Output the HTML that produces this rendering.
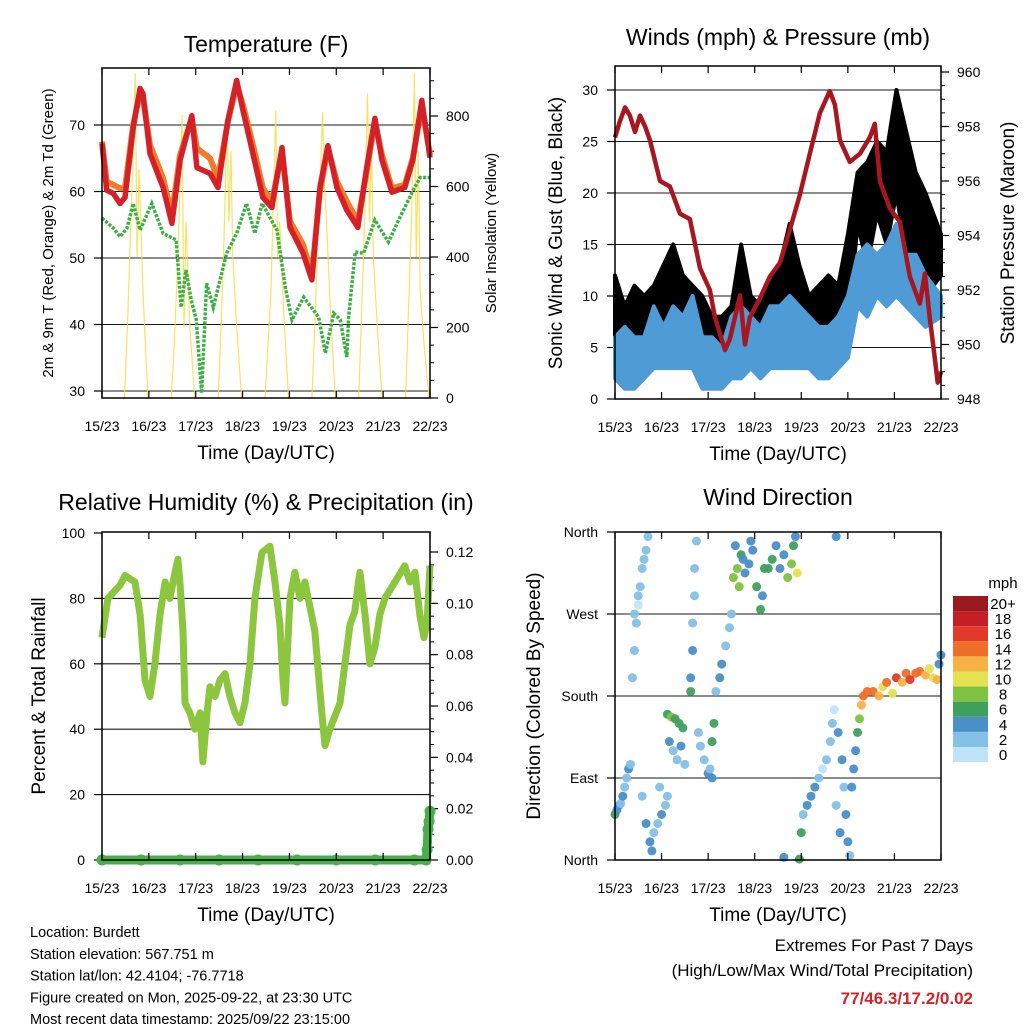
<!DOCTYPE html>
<html><head><meta charset="utf-8"><style>
html,body{margin:0;padding:0;background:#fff;}
svg{display:block;font-family:"Liberation Sans",Arial,sans-serif;}
</style></head><body>
<svg id="chart" width="1024" height="1024" viewBox="0 0 1024 1024" xmlns="http://www.w3.org/2000/svg"></svg>
<script>
// ---------- Temperature panel data ----------
const tempHours=[0,2.4,5.8,9.2,11.8,16,19.5,21,24.6,31.3,35.8,40,46,48.6,55.3,59.4,64.5,69,72.2,77.3,82.4,87,92.2,96.3,103,107.5,111.6,115.7,120.3,125.4,131,135.6,139.8,143.4,148.5,155.1,159.2,163.8,168];
const tempRed=[67.2,60.2,59.7,58.2,59.1,69.6,75.5,74.7,65.7,60.6,55.2,64.7,71.4,63.6,62.7,60.6,70.7,76.7,72.2,65.7,59.1,57.6,66.6,54.6,50.7,46.7,60.6,66.9,60.6,57.2,54.6,63.6,71,64.7,59.9,60.6,64.7,73.7,65.1];
const tempOrange=[67.5,61.5,61,60.5,60.5,70,75,74,67,62,56.5,65.5,71,66.5,65,62,70.5,76,73,67,60.5,58.5,66,55.5,52,47.5,60,66.5,61.5,58.5,55.5,63,70.5,65.5,60.5,61,65,73,65.5];
const dewHours=[0,5.8,9.2,12.8,16,19.5,25.5,31.3,38,40.5,43,45.7,48.3,51,53.6,57,63.8,69,74,78.3,82,89.6,93.9,97.3,103.3,111,114.4,118.7,122,125.4,126.3,129.7,134,139.8,146.7,152.6,159.4,163,168];
const dewVals=[56,54.5,53.2,54.5,58.2,54.2,58.2,53.7,52.7,42.6,48.2,43.7,40.7,29.7,46.2,42.6,50.7,53.7,58.2,53.7,58.2,54.2,45.6,40.7,44.1,41.1,35.7,41.7,40.7,35.1,41.1,50.9,50.7,55.7,52.4,56.1,60.2,62.1,62.1];
const solarHours=[11.5,13,14.5,16,17,18,19,21,23.5, 35.5,37,38.5,40,41,42,43,45,47.5, 59.5,61,62.5,64,65,66,67,69,71.5, 83.5,85,86.5,88,89,90,91,93,95.5, 107.5,109,110.5,112,113,114,115,117,119.5, 131.5,133,134.5,136,137,138,139,141,143.5, 155.5,157,158.5,160,161,162,163,165,167.5];
const solarVals=[0,200,450,700,922,400,650,300,0, 0,150,350,600,803,200,500,200,0, 0,200,450,789,500,700,400,200,0, 0,150,300,600,817,400,500,250,0, 0,200,450,650,811,600,500,250,0, 0,250,500,865,500,700,400,200,0, 0,250,500,922,400,700,300,150,0];
const dayLabels=["15/23","16/23","17/23","18/23","19/23","20/23","21/23","22/23"];
const tempTicks=[30,40,50,60,70];
const solarTicks=[0,200,400,600,800];
// ---------- Wind panel data ----------
const windHours=[0,5,10,15,20,25,30,35,40,45,50,55,60,65,70,75,80,85,90,95,100,105,110,115,120,125,130,135,140,145,150,155,160,168];
const gustLow=[5,3,4,6,7,8,5,5,7,4,3,3,4,5,4,4,5,7,6,6,5,4,5,5,7,17,13,18,15,20,14,13,10,12];
const gustHigh=[12,9,11,10,11,13,15,12,11,10,8,8,9,15,10,9,11,13,17,13,10,11,12,11,16,22,23,25,24,30,26,22,20,16];
const sonicLow=[2,1,1,2,3,3,3,3,3,1,1,1,2,2,3,2,3,3,3,3,3,2,2,3,4,9,8,10,9,10,9,8,7,8];
const sonicHigh=[6,7,6,6,9,7,9,8,10,6,6,5,8,9,8,7,9,9,10,9,8,7,7,8,10,14,15,14,15,17,14,14,12,10];
const presHours=[0,2.6,5.2,7.7,10.3,12.9,15.5,18,23.2,28.3,33.5,38.6,43.8,48.9,51.5,56.7,59.2,64.4,67,69.5,74.7,79.8,85,90.1,95.3,100.4,105.6,110.7,113.3,115.9,121,126.2,131.3,133.9,136.5,141.6,146.8,151.9,157.1,159.7,162.2,164.8,166.3,168];
const presVals=[957.6,958.2,958.7,958.4,957.8,958.4,958,957.5,956,955.8,954.8,954.6,952.8,952,951,949.8,950.2,951.8,950,951,951.7,952.5,953,954.2,955.5,957,958.5,959.3,958.8,957.5,956.7,957,957.6,958.1,956,955,954.5,952.5,951.5,952.6,951,949.5,948.6,949];
const windTicks=[0,5,10,15,20,25,30];
const presTicks=[948,950,952,954,956,958,960];
// ---------- RH panel data ----------
const rhHours=[0,3,9.2,11.8,16.9,19.5,22,24.6,27.1,29.7,32.3,34.8,37.4,38.9,39.9,41.5,42.5,45,47.6,50.2,51.7,53.8,55.3,57.9,60.4,63,65.5,68.1,70.7,73.2,75.8,78.3,81.9,86,88.6,91.1,92.7,93.7,96.3,98.8,101.4,103.9,109,112.6,114.2,116.7,121.9,124.4,127,129.5,131.1,132.1,134.7,137.2,139.8,142.3,144.9,150,155.1,157.7,160.3,162.8,164.9,166.4,168];
const rhVals=[68,80,84,87,85,75,55,50,60,75,85,80,88,92,85,70,48,45,40,45,30,45,53,50,55,57,50,45,42,48,60,80,94,96,85,72,55,48,80,88,80,85,70,45,35,40,48,60,72,76,84,88,75,60,65,75,80,85,90,85,88,75,68,72,90];
const precipHours=[0,20,40,60,80,100,120,140,160,166,166.5,167,167.5,168];
const precipVals=[0,0,0,0,0,0,0,0,0,0,0.004,0.012,0.015,0.019];
const rhTicks=[0,20,40,60,80,100];
const precipTicks=["0.00","0.02","0.04","0.06","0.08","0.10","0.12"];
// ---------- Wind direction data ----------
const dirHours=[0,1,2,3,4,5,6,7,8, 9,10,11,12,13,14,15,16,17,10,12, 14,16,18,19,20,22,24,26,27,23, 27,29,31,33,35, 28,30,32,34,36, 39,40,40,41,41,42,39, 43,44,46,48,49,50,50,51, 52,54,55,57,59,60, 61,63,64,65,66,67,69,71,73,75,76,77,62,70, 79,81,83,85,87,89,91,92,93,94, 114,87,95, 96,97,99,101,103,105,107,109,111,112,113,115,117,118,119,120,121,116,114, 122,123,124,125,126,127,128, 130,133,136,138,140,143,145,148,150,152,155,157,160,162,164,166,167,168];
const dirVals=[50,55,60,62,70,80,90,100,105, 200,230,260,290,300,320,330,340,355,270,280, 70,40,20,10,30,40,50,60,70,80, 160,157,155,150,145, 130,120,110,125,105, 200,230,260,290,320,350,185, 140,125,110,95,100,90,130,150, 185,200,215,235,255,270, 310,320,300,335,330,315,325,340,300,275,290,320,345,350, 320,330,345,320,335,310,325,345,355,315, 355,3,1, 30,50,60,70,80,90,100,110,130,150,165,140,110,80,50,20,5,30,60, 80,100,120,140,155,170,180, 185,185,180,190,195,183,200,195,205,198,205,207,203,210,200,198,215,225];
const dirSpeeds=[6,4,4,3,4,3,3,4,3, 2,2,2,2,2,2,2,2,3,2,1, 3,4,4,4,3,3,4,3,3,2, 7,8,7,7,6, 4,3,3,4,3, 4,4,3,3,2,2,6, 2,2,3,4,3,4,6,6, 3,4,4,2,2,2, 8,9,8,7,4,5,4,5,6,6,4,6,4,4, 6,7,5,4,5,8,9,7,4,10, 4,4,6, 6,3,4,4,4,2,1,2,2,2,1,4,4,3,4,4,3,4,2, 4,4,4,7,8,12,14, 15,14,12,11,14,10,16,12,15,16,14,15,13,11,10,12,4,4];
const dirTickLabels=["North","East","South","West","North"];
const speedLabels=["20+","18","16","14","12","10","8","6","4","2","0"];
const speedColors=["#bfe4f7","#85c0e6","#4a8fc7","#3fa05e","#7fc241","#e4e152","#f7b246","#ef6f2a","#e23a2a","#c21f26","#9a1b1e"];

const svg=document.getElementById('chart');
const NS="http://www.w3.org/2000/svg";
function mk(tag,attrs,parent){const e=document.createElementNS(NS,tag);for(const k in attrs)e.setAttribute(k,attrs[k]);(parent||svg).appendChild(e);return e;}
function lin(d0,d1,r0,r1){return v=>r0+(v-d0)*(r1-r0)/(d1-d0);}
function txt(x,y,s,size,anchor,extra){const t=mk('text',Object.assign({x:x,y:y,'font-size':size,'text-anchor':anchor||'middle',fill:'#000'},extra||{}));t.textContent=s;return t;}
function pathFrom(xs,ys,fx,fy){return xs.map((h,i)=>(i?'L':'M')+fx(h).toFixed(1)+','+fy(ys[i]).toFixed(1)).join('');}

function frame(x0,y0,x1,y1,name){
  const r=mk('rect',{x:x0,y:y0,width:x1-x0,height:y1-y0,fill:'none',stroke:'#000','stroke-width':1.5});
  
  
}
function xAxis(x0,x1,y0,y1,name){
  const fx=lin(0,7,x0,x1);
  dayLabels.forEach((lab,i)=>{
    const x=fx(i);
    const tk=mk('path',{d:`M${x},${y0}V${y0+7}M${x},${y1}V${y1-7}`,stroke:'#000','stroke-width':1.2});
    
    
    const t=txt(x,y1+33,lab,14);
    
    
  });
  const tt=txt((x0+x1)/2,y1+61,'Time (Day/UTC)',19);
  
  
}
function hgrid(x0,x1,y,name){const g=mk('line',{x1:x0,x2:x1,y1:y,y2:y,stroke:'#000','stroke-width':1.1,opacity:0.9});}
function ytick(x,y,dir,label,name){
  const t=mk('line',{x1:x,x2:x+dir*8,y1:y,y2:y,stroke:'#000','stroke-width':1.2});
  
  
  const l=txt(x+dir*(dir<0?17:16),y+5,label,14,dir<0?'end':'start');
  
  
}
function minor(x,y,dir,name){const t=mk('line',{x1:x,x2:x+dir*4,y1:y,y2:y,stroke:'#000','stroke-width':1});}
function vtitle(x,y,s,size,name){const t=txt(x,y,s,size,'middle',{transform:`rotate(-90 ${x} ${y})`});}

// ===== Panel 1: Temperature =====
(function(){
  const x0=102,x1=430,y0=68,y1=398;
  const fx=lin(0,168,x0,x1), fy=lin(30,70,391,125), fs=lin(0,800,398,116);
  tempTicks.forEach(v=>{hgrid(x0,x1,fy(v),'temp');ytick(x0,fy(v),-1,String(v),'temp-y');});
  solarTicks.forEach(v=>ytick(x1,fs(v),1,String(v),'solar-y'));
  for(let v=50;v<=900;v+=50){if(v%200)minor(x1,fs(v),1,'solar-y');}
  const sol=mk('path',{d:pathFrom(solarHours,solarVals,fx,fs),fill:'none',stroke:'#f7dc4a','stroke-width':1.2,opacity:0.85});
  
  
  const dew=mk('path',{d:pathFrom(dewHours,dewVals,fx,fy),fill:'none',stroke:'#3cb043','stroke-width':3.5,'stroke-dasharray':'3 1.5'});
  
  
  const or=mk('path',{d:pathFrom(tempHours,tempOrange,fx,fy),fill:'none',stroke:'#f37a2a','stroke-width':6,'stroke-linejoin':'round'});
  
  
  const rd=mk('path',{d:pathFrom(tempHours,tempRed,fx,fy),fill:'none',stroke:'#d42027','stroke-width':5.5,'stroke-linejoin':'round'});
  
  
  frame(x0,y0,x1,y1,'temp');
  xAxis(x0,x1,y0,y1,'temp');
  const t=txt(266,52,'Temperature (F)',23);
  vtitle(53,233,'2m & 9m T (Red, Orange) & 2m Td (Green)',15,'temp-y-axis-title');
  vtitle(496,233,'Solar Insolation (Yellow)',15,'solar-y-axis-title');
})();

// ===== Panel 2: Winds =====
(function(){
  const x0=615,x1=941,y0=66,y1=399;
  const fx=lin(0,168,x0,x1), fy=lin(0,30,399,90), fp=lin(948,960,399,72);
  windTicks.forEach(v=>{if(v>0)hgrid(x0,x1,fy(v),'wind');ytick(x0,fy(v),-1,String(v),'wind-y');});
  presTicks.forEach(v=>ytick(x1,fp(v),1,String(v),'pressure-y'));
  for(let v=948.5;v<960;v+=0.5){if(v%2)minor(x1,fp(v),1,'pressure-y');}
  function band(lo,hi,color,name){
    let d=windHours.map((h,i)=>(i?'L':'M')+fx(h).toFixed(1)+','+fy(hi[i]).toFixed(1)).join('');
    for(let i=windHours.length-1;i>=0;i--)d+='L'+fx(windHours[i]).toFixed(1)+','+fy(lo[i]).toFixed(1);
    const p=mk('path',{d:d+'Z',fill:color,stroke:color,'stroke-width':4,'stroke-linejoin':'round'});
    
    
  }
  band(gustLow,gustHigh,'#000','gust-band');
  band(sonicLow,sonicHigh,'#4f9bd6','sonic-wind-band');
  const pr=mk('path',{d:pathFrom(presHours,presVals,fx,fp),fill:'none',stroke:'#a8171f','stroke-width':4.5,'stroke-linejoin':'round'});
  
  
  frame(x0,y0,x1,y1,'wind');
  xAxis(x0,x1,y0,y1,'wind');
  const t=txt(778,45,'Winds (mph) & Pressure (mb)',23);
  vtitle(562,233,'Sonic Wind & Gust (Blue, Black)',19,'wind-y-axis-title');
  vtitle(1014,233,'Station Pressure (Maroon)',19,'pressure-y-axis-title');
})();

// ===== Panel 3: RH =====
(function(){
  const x0=102,x1=430,y0=532,y1=860;
  const fx=lin(0,168,x0,x1), fy=lin(0,100,860,533), fr=lin(0,0.12,860,552);
  rhTicks.forEach(v=>{if(v>0&&v<100)hgrid(x0,x1,fy(v),'rh');ytick(x0,fy(v),-1,String(v),'rh-y');});
  precipTicks.forEach(s=>ytick(x1,fr(parseFloat(s)),1,s,'precip-y'));
  for(let v=0.005;v<0.125;v+=0.005){if(Math.round(v*1000)%20)minor(x1,fr(v),1,'precip-y');}
  const rh=mk('path',{d:pathFrom(rhHours,rhVals,fx,fy),fill:'none',stroke:'#8cc63f','stroke-width':7,'stroke-linejoin':'round'});
  
  
  const pl=mk('path',{d:pathFrom(precipHours,precipVals,fx,fr),fill:'none',stroke:'#47b04b','stroke-width':9});
  
  
  precipHours.forEach((h,i)=>{
    const c=mk('circle',{cx:fx(h),cy:fr(precipVals[i]),r:5.5,fill:'#47b04b'});
    
    
  });
  frame(x0,y0,x1,y1,'rh');
  xAxis(x0,x1,y0,y1,'rh');
  const t=txt(266,510,'Relative Humidity (%) & Precipitation (in)',23);
  vtitle(45,696,'Percent & Total Rainfall',19,'rh-y-axis-title');
})();

// ===== Panel 4: Wind Direction =====
(function(){
  const x0=615,x1=941,y0=532,y1=860;
  const fx=lin(0,168,x0,x1), fy=lin(0,360,860,532);
  dirTickLabels.forEach((lab,i)=>{const y=fy(i*90);if(i>0&&i<4)hgrid(x0,x1,y,'dir');ytick(x0,y,-1,lab,'dir-y');});
  dirHours.forEach((h,i)=>{
    const s=dirSpeeds[i];const bin=Math.min(10,Math.floor(s/2));
    const c=mk('circle',{cx:fx(h),cy:fy(dirVals[i]),r:4.5,fill:speedColors[bin],opacity:0.95});
    
    
  });
  frame(x0,y0,x1,y1,'dir');
  xAxis(x0,x1,y0,y1,'dir');
  const t=txt(778,505,'Wind Direction',23);
  vtitle(540,696,'Direction (Colored By Speed)',19,'dir-y-axis-title');
  const lt=txt(1003,588,'mph',15);
  speedLabels.forEach((lab,i)=>{
    const y=596+i*15.1;
    const r=mk('rect',{x:953,y:y,width:35,height:15.1,fill:speedColors[10-i]});
    
    
    const l=txt(1003,y+13,lab,15);
    
    
  });
})();

// ===== Footer text =====
const info=["Location: Burdett","Station elevation: 567.751 m","Station lat/lon: 42.4104; -76.7718","Figure created on Mon, 2025-09-22, at 23:30 UTC","Most recent data timestamp: 2025/09/22 23:15:00"];
info.forEach((s,i)=>{const t=txt(30,937+i*21.8,s,14.5,'start');});
const e1=txt(973,951,'Extremes For Past 7 Days',17,'end');
const e2=txt(973,976,'(High/Low/Max Wind/Total Precipitation)',17,'end');
const e3=txt(973,1004,'77/46.3/17.2/0.02',17,'end',{'font-weight':'bold',fill:'#d2232a'});
</script>
</body></html>
